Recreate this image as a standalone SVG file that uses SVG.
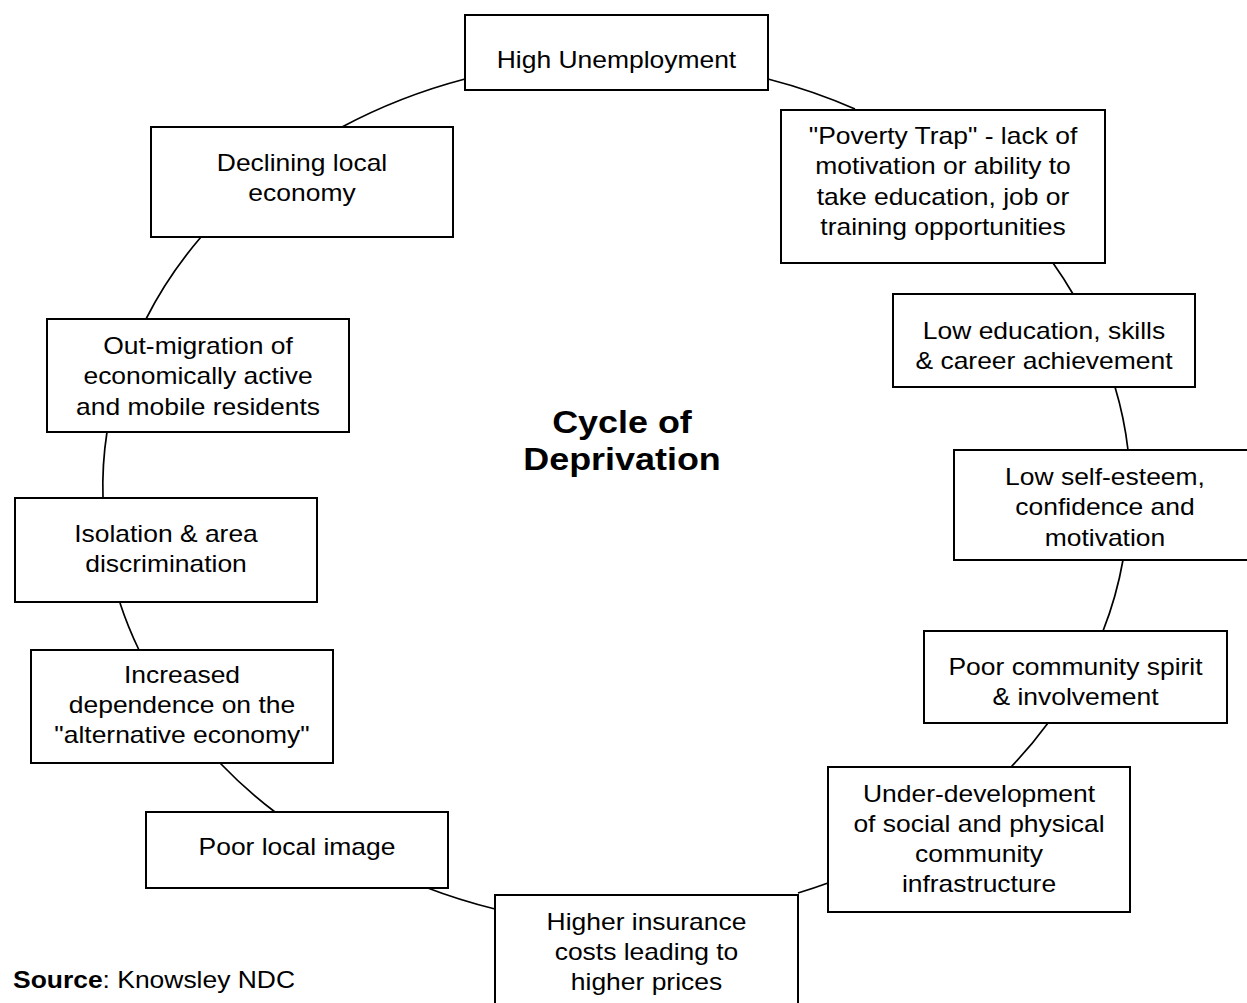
<svg xmlns="http://www.w3.org/2000/svg" width="1247" height="1003" viewBox="0 0 1247 1003">
<style>
.box{fill:#fff;stroke:#000;stroke-width:2}
.arc{fill:none;stroke:#000;stroke-width:1.7}
.t{font-family:"Liberation Sans",Arial,sans-serif;font-size:23px;text-anchor:middle;fill:#000}
.title{font-family:"Liberation Sans",Arial,sans-serif;font-size:31.5px;font-weight:bold;text-anchor:middle;fill:#000}
.src{font-family:"Liberation Sans",Arial,sans-serif;font-size:23px;fill:#000}
</style>
<rect width="1247" height="1003" fill="#fff"/>
<g id="connectors">
<path class="arc" d="M768,79 A512,425 0 0 1 855,109"/>
<path class="arc" d="M1053,263 A512,425 0 0 1 1073,294"/>
<path class="arc" d="M1115,387 A512,425 0 0 1 1128,450"/>
<path class="arc" d="M1123,560 A512,425 0 0 1 1103,631"/>
<path class="arc" d="M1048,723 A512,425 0 0 1 1011,767"/>
<path class="arc" d="M828,883 A512,425 0 0 1 798,893"/>
<path class="arc" d="M495,909 A512,425 0 0 1 425,887"/>
<path class="arc" d="M275,812 A512,425 0 0 1 220,763"/>
<path class="arc" d="M139,650 A512,425 0 0 1 120,603"/>
<path class="arc" d="M103,498 A512,425 0 0 1 107,432"/>
<path class="arc" d="M146,319 A512,425 0 0 1 201,237"/>
<path class="arc" d="M342,127 A512,425 0 0 1 465,79"/>
</g>
<g id="n1"><rect class="box" x="465" y="15" width="303" height="75"/>
<text class="t" transform="translate(616.5 0) scale(1.15 1)"><tspan x="0" y="68">High Unemployment</tspan></text></g>
<g id="n2"><rect class="box" x="781" y="110" width="324" height="153"/>
<text class="t" transform="translate(943 0) scale(1.15 1)"><tspan x="0" y="144">"Poverty Trap" - lack of</tspan><tspan x="0" y="174.5">motivation or ability to</tspan><tspan x="0" y="205">take education, job or</tspan><tspan x="0" y="235.5">training opportunities</tspan></text></g>
<g id="n3"><rect class="box" x="893" y="294" width="302" height="93"/>
<text class="t" transform="translate(1044 0) scale(1.15 1)"><tspan x="0" y="339">Low education, skills</tspan><tspan x="0" y="369">&amp; career achievement</tspan></text></g>
<g id="n4"><rect class="box" x="954" y="450" width="302" height="110"/>
<text class="t" transform="translate(1105 0) scale(1.15 1)"><tspan x="0" y="485">Low self-esteem,</tspan><tspan x="0" y="515.5">confidence and</tspan><tspan x="0" y="546">motivation</tspan></text></g>
<g id="n5"><rect class="box" x="924" y="631" width="303" height="92"/>
<text class="t" transform="translate(1075.5 0) scale(1.15 1)"><tspan x="0" y="675">Poor community spirit</tspan><tspan x="0" y="705">&amp; involvement</tspan></text></g>
<g id="n6"><rect class="box" x="828" y="767" width="302" height="145"/>
<text class="t" transform="translate(979 0) scale(1.15 1)"><tspan x="0" y="802">Under-development</tspan><tspan x="0" y="832">of social and physical</tspan><tspan x="0" y="862">community</tspan><tspan x="0" y="892">infrastructure</tspan></text></g>
<g id="n7"><rect class="box" x="495" y="895" width="303" height="120"/>
<text class="t" transform="translate(646.5 0) scale(1.15 1)"><tspan x="0" y="930">Higher insurance</tspan><tspan x="0" y="960">costs leading to</tspan><tspan x="0" y="990">higher prices</tspan></text></g>
<g id="n8"><rect class="box" x="146" y="812" width="302" height="76"/>
<text class="t" transform="translate(297 0) scale(1.15 1)"><tspan x="0" y="855">Poor local image</tspan></text></g>
<g id="n9"><rect class="box" x="31" y="650" width="302" height="113"/>
<text class="t" transform="translate(182 0) scale(1.15 1)"><tspan x="0" y="683">Increased</tspan><tspan x="0" y="713">dependence on the</tspan><tspan x="0" y="743">"alternative economy"</tspan></text></g>
<g id="n10"><rect class="box" x="15" y="498" width="302" height="104"/>
<text class="t" transform="translate(166 0) scale(1.15 1)"><tspan x="0" y="542">Isolation &amp; area</tspan><tspan x="0" y="572">discrimination</tspan></text></g>
<g id="n11"><rect class="box" x="47" y="319" width="302" height="113"/>
<text class="t" transform="translate(198 0) scale(1.15 1)"><tspan x="0" y="354">Out-migration of</tspan><tspan x="0" y="384.5">economically active</tspan><tspan x="0" y="415">and mobile residents</tspan></text></g>
<g id="n12"><rect class="box" x="151" y="127" width="302" height="110"/>
<text class="t" transform="translate(302 0) scale(1.15 1)"><tspan x="0" y="171">Declining local</tspan><tspan x="0" y="201">economy</tspan></text></g>
<g id="title"><text class="title" transform="translate(622 0) scale(1.14 1)"><tspan x="0" y="433">Cycle of</tspan><tspan x="0" y="470">Deprivation</tspan></text></g>
<g id="source"><text class="src" transform="translate(13 0) scale(1.15 1)"><tspan x="0" y="988" font-weight="bold">Source</tspan><tspan>: Knowsley NDC</tspan></text></g>
</svg>
